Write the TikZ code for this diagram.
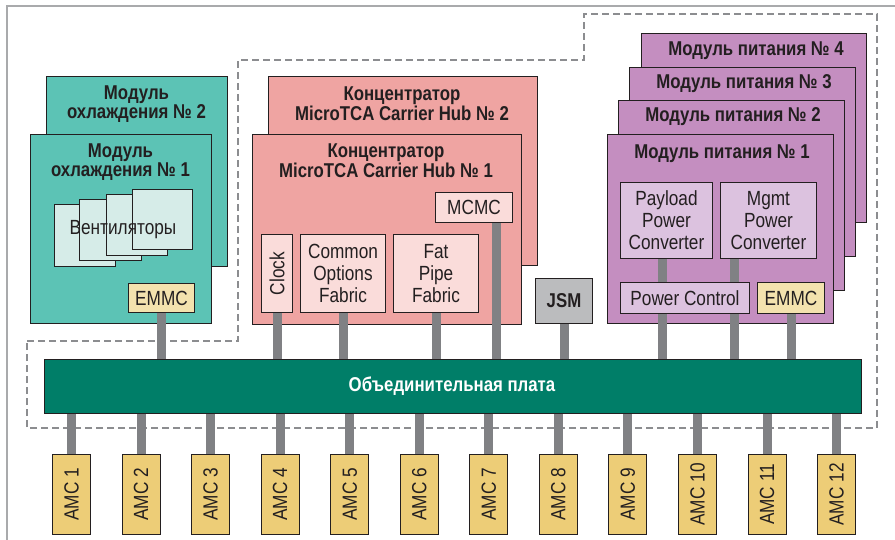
\documentclass[tikz,border=0pt]{standalone}
\usepackage{fontspec}
\setmainfont{Liberation Sans}
\newfontfamily\condreg[FakeStretch=0.84]{Liberation Sans}
\newfontfamily\condbold[FakeStretch=0.84]{Liberation Sans Bold}
\usetikzlibrary{calc}

\definecolor{frameC}{HTML}{A9AAAC}
\definecolor{dashC}{HTML}{8C8D90}
\definecolor{edgeC}{HTML}{231F20}
\definecolor{coolC}{HTML}{5CC3B5}
\definecolor{fanC}{HTML}{D6ECE8}
\definecolor{emmcC}{HTML}{F3E2AE}
\definecolor{hubC}{HTML}{EFA4A2}
\definecolor{hubInC}{HTML}{FADCDA}
\definecolor{jsmC}{HTML}{BBBCBE}
\definecolor{pwrC}{HTML}{C48EC0}
\definecolor{pwrInC}{HTML}{DCC2DF}
\definecolor{bpC}{HTML}{007E68}
\definecolor{amcC}{HTML}{EDCD77}
\definecolor{connC}{HTML}{808184}

\tikzset{
  box/.style={draw=edgeC, line width=1pt, inner sep=0pt, anchor=north west,
    minimum width=#1},
  title/.style={font=\condbold\fontsize{20}{18.5}\selectfont, text=edgeC,
    align=center, inner sep=0pt},
  lbl/.style={font=\condreg\fontsize{20.5}{22}\selectfont, text=edgeC,
    align=center, inner sep=0pt},
  conn/.style={draw=connC, line width=9pt},
  outline/.style={draw=dashC, line width=1.6pt, dash pattern=on 7pt off 4pt},
}

\begin{document}
\begin{tikzpicture}[x=1pt, y=-1pt]
\useasboundingbox (0,0) rectangle (895,540);

% outer frame
\draw[frameC, line width=1.2pt] (7,540) -- (7,6) -- (895,6);

% chassis region
\draw[outline] (27,341) -- (238,341) -- (238,60) -- (584,60) -- (584,14)
  -- (877,14) -- (877,428) -- (27,428) -- cycle;

% cooling modules
\node[box=181pt, minimum height=190pt, fill=coolC] (cool2) at (46,76) {};
\node[title] (cool2t) at (136.5,104) {Модуль\\охлаждения № 2};
\node[box=181pt, minimum height=189pt, fill=coolC] (cool1) at (30,134) {};
\node[title] (cool1t) at (120.5,162) {Модуль\\охлаждения № 1};
\node[box=61pt, minimum height=62pt, fill=fanC] (fanA) at (54,204) {};
\node[box=62pt, minimum height=61pt, fill=fanC] (fanB) at (79,199) {};
\node[box=61pt, minimum height=61pt, fill=fanC] (fanC) at (106,194) {};
\node[box=60pt, minimum height=60pt, fill=fanC] (fanD) at (132,189) {};
\node[lbl] (fans) at (123,230) {Вентиляторы};
\node[box=66pt, minimum height=29pt, fill=emmcC, lbl] (emmc1) at (128,283) {EMMC};

% carrier hubs
\node[box=269pt, minimum height=189pt, fill=hubC] (hub2) at (268,76) {};
\node[title] (hub2t) at (402,104) {Концентратор\\MicroTCA Carrier Hub № 2};
\node[box=269pt, minimum height=190pt, fill=hubC] (hub1) at (252,134) {};
\node[title] (hub1t) at (386,161) {Концентратор\\MicroTCA Carrier Hub № 1};
\node[box=77pt, minimum height=30pt, fill=hubInC, lbl] (mcmc) at (435,192) {MCMC};
\node[box=31pt, minimum height=78pt, fill=hubInC] (clock) at (261,234) {};
\node[lbl, rotate=90] (clockt) at (clock.center) {Clock};
\node[box=85pt, minimum height=78pt, fill=hubInC, lbl] (cof) at (300,234) {Common\\Options\\Fabric};
\node[box=85pt, minimum height=78pt, fill=hubInC, lbl] (fpf) at (393,234) {Fat\\Pipe\\Fabric};

% JSM
\node[box=57pt, minimum height=45pt, fill=jsmC, title] (jsm) at (535,278) {JSM};

% power modules
\node[box=225pt, minimum height=189pt, fill=pwrC] (pm4) at (641,33) {};
\node[title] (pm4t) at (756,51) {Модуль питания № 4};
\node[box=226pt, minimum height=189pt, fill=pwrC] (pm3) at (629,67) {};
\node[title] (pm3t) at (744,84) {Модуль питания № 3};
\node[box=226pt, minimum height=190pt, fill=pwrC] (pm2) at (618,100) {};
\node[title] (pm2t) at (733,117) {Модуль питания № 2};
\node[box=226pt, minimum height=189pt, fill=pwrC] (pm1) at (607,134) {};
\node[title] (pm1t) at (722,154) {Модуль питания № 1};
\node[box=92pt, minimum height=76pt, fill=pwrInC, lbl] (ppc) at (620,182) {Payload\\Power\\Converter};
\node[box=96pt, minimum height=76pt, fill=pwrInC, lbl] (mpc) at (720,182) {Mgmt\\Power\\Converter};
\node[box=129pt, minimum height=31pt, fill=pwrInC, lbl] (pctl) at (620,282) {Power Control};
\node[box=67pt, minimum height=31pt, fill=emmcC, lbl] (emmc2) at (757,282) {EMMC};

% backplane
\node[box=817pt, minimum height=54pt, fill=bpC] (bp) at (44,359) {};
\node[title, text=white] (bpt) at (452,386) {Объединительная плата};

% AMC slots
\foreach \i in {1,...,12} {
  \node[box=38pt, minimum height=80pt, fill=amcC] (amc\i) at ({52+(\i-1)*69.55},454) {};
  \node[lbl, rotate=90] (amc\i t) at (amc\i.center) {AMC \i};
}

% connections to the backplane
\draw[conn] (emmc1.south) -- (emmc1.south |- bp.north);
\draw[conn] (clock.south) -- (clock.south |- bp.north);
\draw[conn] (cof.south) -- (cof.south |- bp.north);
\draw[conn] (fpf.south) -- (fpf.south |- bp.north);
\draw[conn] ([xshift=22.5pt]mcmc.south) -- ([xshift=22.5pt]mcmc.south |- bp.north);
\draw[conn] (jsm.south) -- (jsm.south |- bp.north);
\draw[conn] ([xshift=-4pt]ppc.south) -- ([xshift=-4pt]ppc.south |- pctl.north);
\draw[conn] ([xshift=-34pt]mpc.south) -- ([xshift=-34pt]mpc.south |- pctl.north);
\draw[conn] ([xshift=-22.5pt]pctl.south) -- ([xshift=-22.5pt]pctl.south |- bp.north);
\draw[conn] ([xshift=49.5pt]pctl.south) -- ([xshift=49.5pt]pctl.south |- bp.north);
\draw[conn] (emmc2.south) -- (emmc2.south |- bp.north);
\foreach \i in {1,...,12} {
  \draw[conn] (amc\i.north) -- (amc\i.north |- bp.south);
}
\end{tikzpicture}
\end{document}
